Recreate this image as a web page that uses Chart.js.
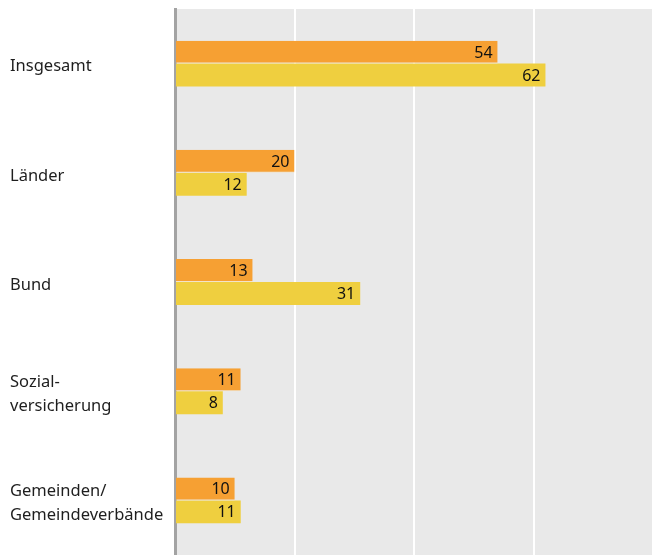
<!DOCTYPE html>
<html lang="de">
<head>
<meta charset="UTF-8">
<title>Balkendiagramm</title>
<script src="https://cdn.jsdelivr.net/npm/chart.js"></script>
<style>
  body { margin: 0; background: #fff; }
  #wrap { width: 653px; height: 555px; position: relative; }
</style>
</head>
<body>
<div id="wrap"><canvas id="chart"></canvas></div>
<script>
// Daten
var categories = [['Insgesamt'], ['Länder'], ['Bund'], ['Sozial-', 'versicherung'], ['Gemeinden/', 'Gemeindeverbände']];
var seriesA = [54, 20, 13, 11, 10];
var seriesB = [62, 12, 31, 8, 11];
var xTicks = [0, 20, 40, 60, 80];

// grauer Hintergrund der Zeichenfläche
var plotBg = {
  id: 'plotBg',
  beforeDraw: function (chart) {
    var a = chart.chartArea, c = chart.ctx;
    c.save();
    c.fillStyle = '#e9e9e9';
    c.fillRect(a.left, a.top, a.right - a.left, a.bottom - a.top);
    c.restore();
  }
};

// Werte am Balkenende
var valueLabels = {
  id: 'valueLabels',
  afterDatasetsDraw: function (chart) {
    var c = chart.ctx;
    c.save();
    c.font = '16px "Noto Sans"';
    c.fillStyle = '#111';
    c.textAlign = 'right';
    c.textBaseline = 'middle';
    chart.data.datasets.forEach(function (ds, i) {
      chart.getDatasetMeta(i).data.forEach(function (bar, j) {
        c.fillText(ds.data[j], bar.x - 5, bar.y + 1);
      });
    });
    c.restore();
  }
};

var ctx = document.getElementById('chart').getContext('2d');
new Chart(ctx, {
  type: 'bar',
  data: {
    labels: categories,
    datasets: [
      { data: seriesA, backgroundColor: '#f6a033', borderColor: '#f3e3c8', borderWidth: { bottom: 1 }, borderSkipped: false },
      { data: seriesB, backgroundColor: '#efcf3f', borderWidth: 0 }
    ]
  },
  options: {
    indexAxis: 'y',
    responsive: true,
    maintainAspectRatio: false,
    animation: false,
    layout: { padding: { top: 9, right: 0, bottom: 0, left: 10 } },
    plugins: { legend: { display: false }, tooltip: { enabled: false } },
    datasets: { bar: { barPercentage: 1, categoryPercentage: 0.42 } },
    scales: {
      x: {
        min: 0, max: 80,
        afterBuildTicks: function (axis) { axis.ticks = xTicks.map(function (v) { return { value: v }; }); },
        afterFit: function (axis) { axis.height = 0; axis.paddingLeft = 0; axis.paddingRight = 0; },
        ticks: { display: false },
        grid: { color: '#ffffff', lineWidth: 2, drawTicks: false },
        border: { display: false }
      },
      y: {
        afterFit: function (axis) { axis.width = 165; axis.paddingTop = 0; axis.paddingBottom = 0; },
        ticks: {
          crossAlign: 'far',
          padding: 10,
          labelOffset: 3,
          color: '#1e1e1e',
          font: { family: '"Noto Sans"', size: 16.5, lineHeight: 1.42 }
        },
        grid: { display: false },
        border: { display: true, color: '#a3a3a3', width: 3 }
      }
    }
  },
  plugins: [plotBg, valueLabels]
});
</script>
</body>
</html>
